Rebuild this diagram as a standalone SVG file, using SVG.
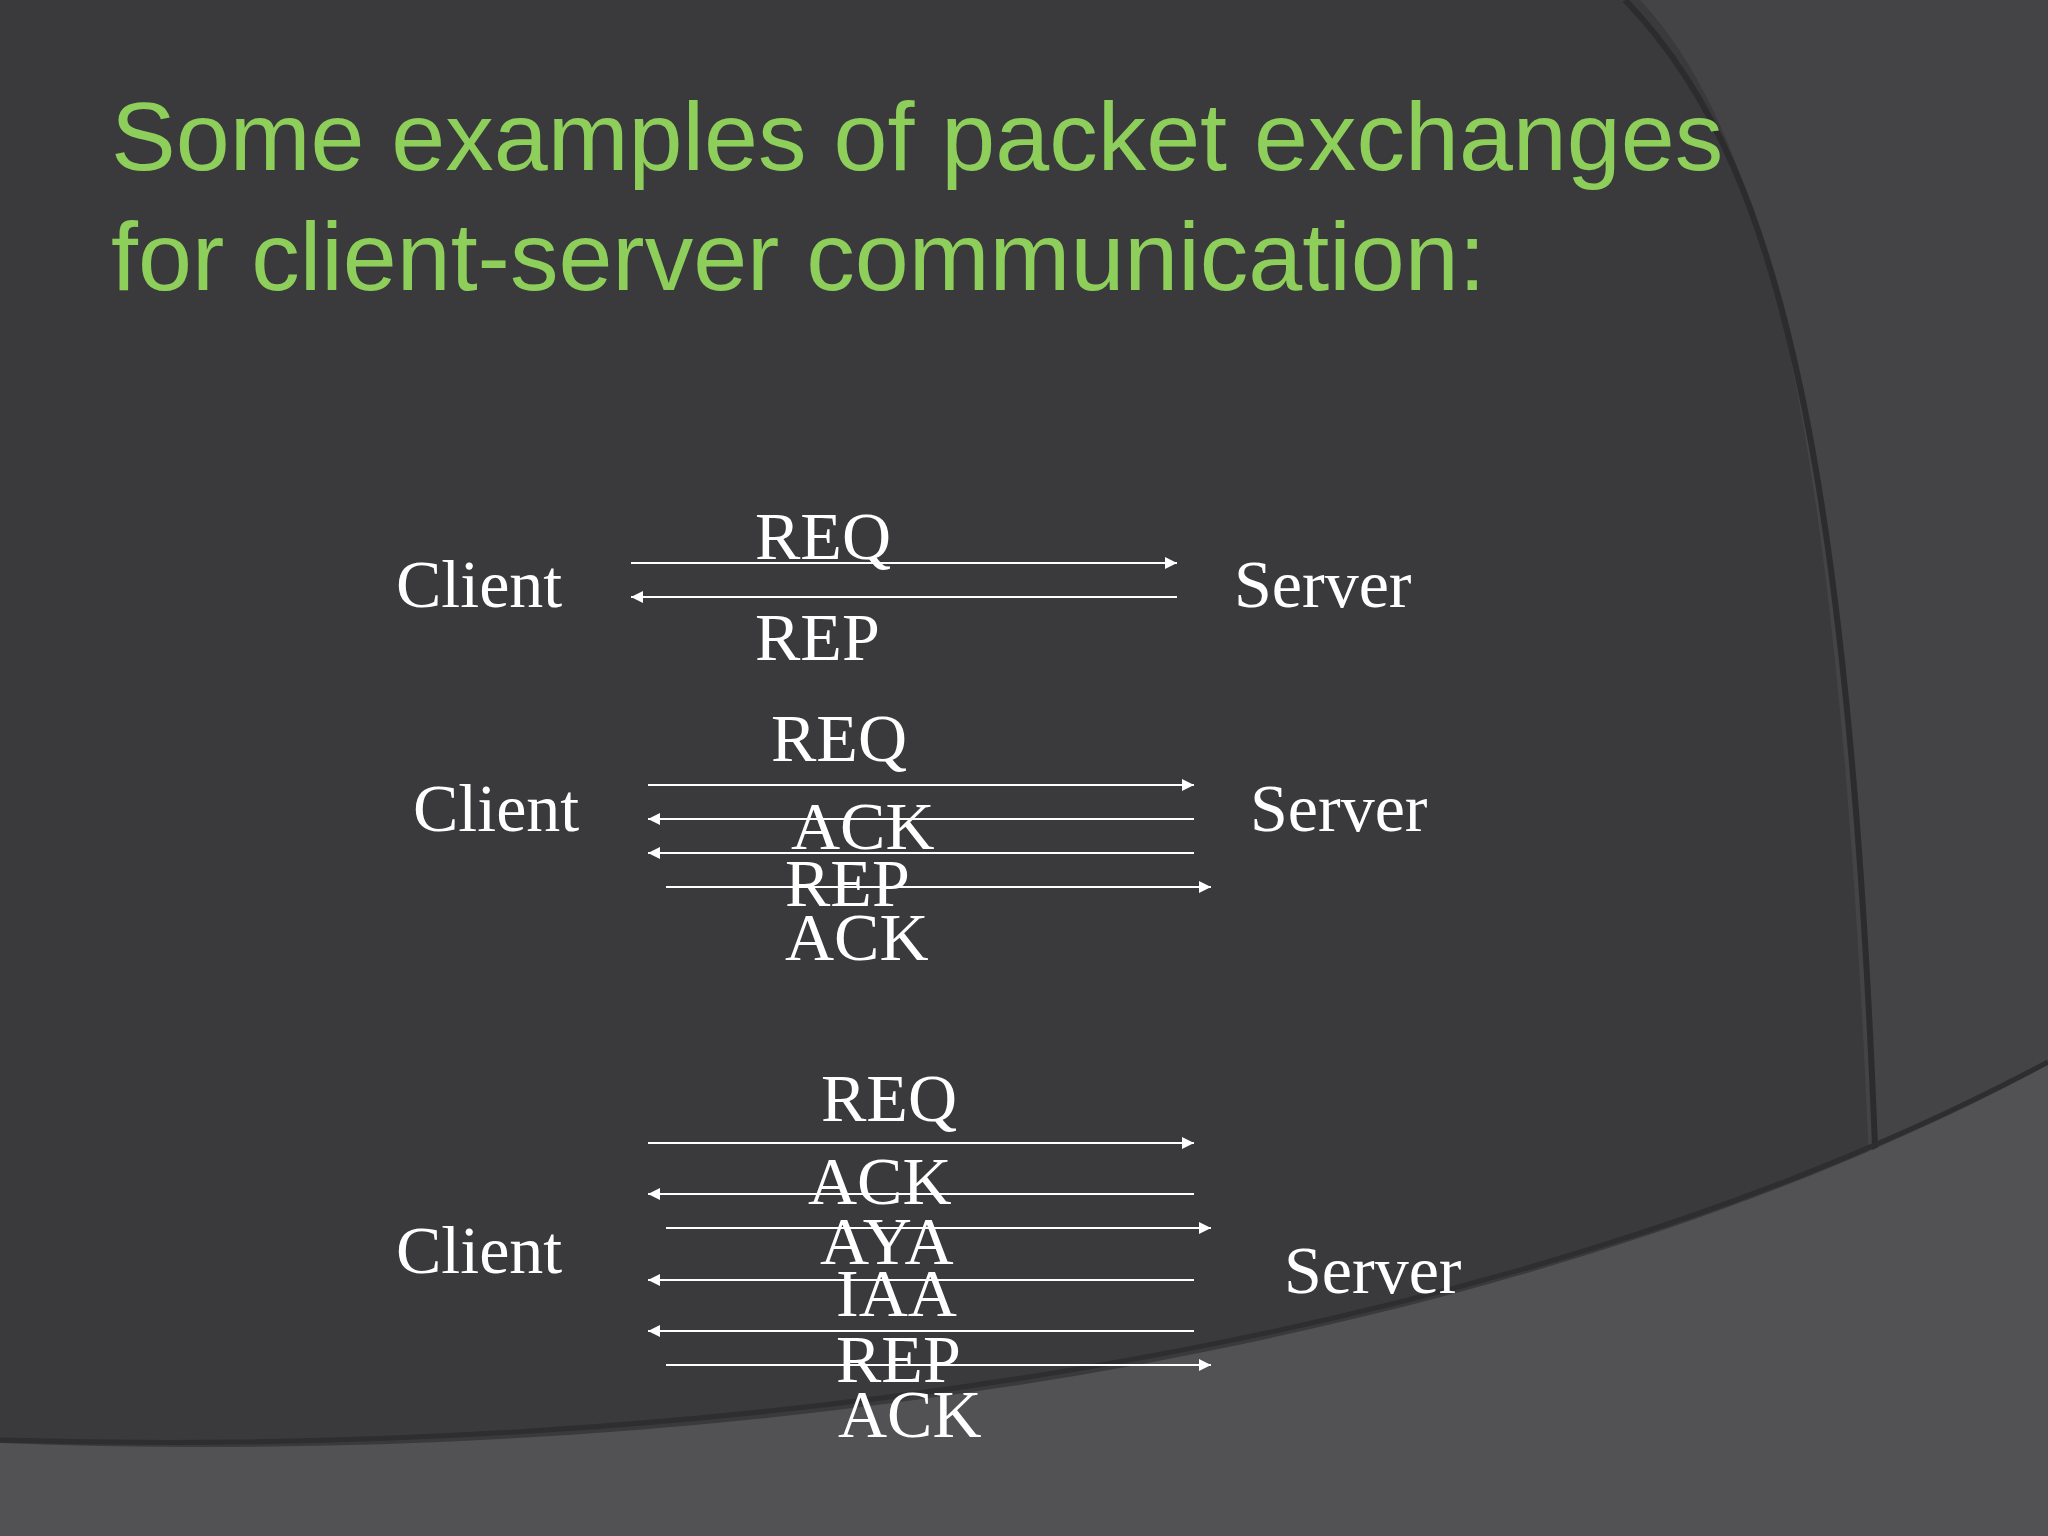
<svg xmlns="http://www.w3.org/2000/svg" width="2048" height="1536" viewBox="0 0 2048 1536">
<defs>
<marker id="ah" viewBox="0 0 10 10" refX="10" refY="5" markerWidth="14" markerHeight="12" orient="auto-start-reverse" markerUnits="userSpaceOnUse"><path d="M0,0L10,5L0,10z" fill="#fff"/></marker>
<style>
.t{font-family:"Liberation Serif",serif;font-size:68px;fill:#fff}
.h{font-family:"Liberation Sans",sans-serif;font-size:97px;fill:#8dcf5a}
.c line{stroke:#fff;stroke-width:2;marker-end:url(#ah)}
</style>
</defs>
<rect width="2048" height="1536" fill="#3a3a3c"/>
<path d="M1640,0 C1780,150 1860,500 1880,1536 L2048,1536 L2048,0Z" fill="#444446"/>
<path d="M1625,0 C1790,170 1870,500 1885,1536" fill="none" stroke="#2c2c2e" stroke-width="6"/>
<path d="M0,1443 C700,1470 1500,1360 2048,1065 L2048,1536 L0,1536Z" fill="#525254"/>
<path d="M0,1440 C700,1460 1500,1355 2048,1062" fill="none" stroke="#2e2e30" stroke-width="5"/>
<g id="title"><text class="h" x="111" y="170">Some examples of packet exchanges</text><text class="h" x="111" y="290">for client-server communication:</text></g>
<g id="n1"><text class="t" x="396" y="607">Client</text><text class="t" x="1234" y="607">Server</text><text class="t" x="755" y="559">REQ</text><text class="t" x="755" y="660">REP</text></g>
<g id="n2"><text class="t" x="413" y="831">Client</text><text class="t" x="1250" y="831">Server</text><text class="t" x="771" y="761">REQ</text><text class="t" x="791" y="849">ACK</text><text class="t" x="785" y="906">REP</text><text class="t" x="785" y="960">ACK</text></g>
<g id="n3"><text class="t" x="396" y="1273">Client</text><text class="t" x="1284" y="1293">Server</text><text class="t" x="821" y="1121">REQ</text><text class="t" x="808" y="1204">ACK</text><text class="t" x="820" y="1264">AYA</text><text class="t" x="836" y="1316">IAA</text><text class="t" x="836" y="1382">REP</text><text class="t" x="838" y="1437">ACK</text></g>
<g id="connectors" class="c">
<line x1="631" y1="563" x2="1177" y2="563"/><line x1="1177" y1="597" x2="631" y2="597"/>
<line x1="648" y1="785" x2="1194" y2="785"/><line x1="1194" y1="819" x2="648" y2="819"/><line x1="1194" y1="853" x2="648" y2="853"/><line x1="666" y1="887" x2="1211" y2="887"/>
<line x1="648" y1="1143" x2="1194" y2="1143"/><line x1="1194" y1="1194" x2="648" y2="1194"/><line x1="666" y1="1228" x2="1211" y2="1228"/><line x1="1194" y1="1280" x2="648" y2="1280"/><line x1="1194" y1="1331" x2="648" y2="1331"/><line x1="666" y1="1365" x2="1211" y2="1365"/>
</g>
</svg>
